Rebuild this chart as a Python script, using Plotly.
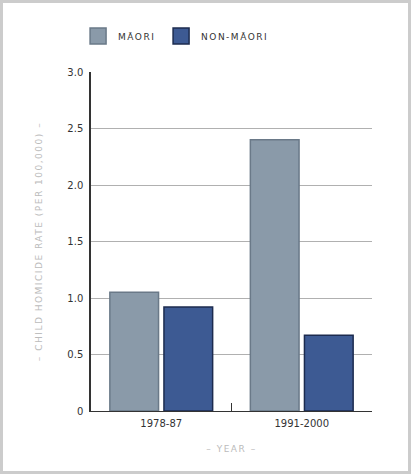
import plotly.graph_objects as go

categories = ["1978-87", "1991-2000"]
maori = [1.05, 2.4]
non_maori = [0.92, 0.67]
series_names = ["MĀORI", "NON-MĀORI"]
ytick_vals = [0, 0.5, 1.0, 1.5, 2.0, 2.5, 3.0]
ytick_text = ["0", "0.5", "1.0", "1.5", "2.0", "2.5", "3.0"]

c_maori = "#8a9aa9"
c_maori_line = "#6a7988"
c_non = "#3d5a93"
c_non_line = "#1c2b4f"

fig = go.Figure()
fig.add_trace(go.Bar(x=categories, y=maori, name=series_names[0],
                     marker=dict(color=c_maori, line=dict(color=c_maori_line, width=1.5)),
                     showlegend=False))
fig.add_trace(go.Bar(x=categories, y=non_maori, name=series_names[1],
                     marker=dict(color=c_non, line=dict(color=c_non_line, width=1.5)),
                     showlegend=False))
# legend entries with larger square swatches
fig.add_trace(go.Scatter(x=[None], y=[None], mode="markers", name=series_names[0],
                         legend="legend",
                         marker=dict(symbol="square", size=18, color=c_maori,
                                     line=dict(color=c_maori_line, width=1.5))))
fig.add_trace(go.Scatter(x=[None], y=[None], mode="markers", name=series_names[1],
                         legend="legend2",
                         marker=dict(symbol="square", size=18, color=c_non,
                                     line=dict(color=c_non_line, width=1.5))))

L, R, T, B = 91, 39, 72, 63
W, H = 411, 474
pw, ph = W - L - R, H - T - B

legend_common = dict(orientation="h", xanchor="left", y=1 + 36 / ph, yanchor="middle",
                     font=dict(size=9, color="#333333"), entrywidth=110,
                     entrywidthmode="pixels", bgcolor="rgba(0,0,0,0)")

fig.update_layout(
    width=W, height=H,
    margin=dict(l=L, r=R, t=T, b=B, pad=0),
    paper_bgcolor="white", plot_bgcolor="white",
    font=dict(family="DejaVu Sans, Verdana, sans-serif", size=10, color="#333333"),
    barmode="group", bargap=0.23, bargroupgap=0.1,
    legend=dict(x=-0.046, **legend_common),
    legend2=dict(x=-0.046 + 83 / pw, **legend_common),
    xaxis=dict(
        type="category", showgrid=False, showline=True, linecolor="#333333", linewidth=1,
        ticks="inside", tickson="boundaries", ticklen=8, tickcolor="#333333",
        tickfont=dict(size=10, color="#333333"), ticklabelstandoff=3,
        title=dict(text="– YEAR –", font=dict(size=9, color="#bbbbbb"), standoff=17),
    ),
    yaxis=dict(
        range=[0, 3.0], tickvals=ytick_vals, ticktext=ytick_text,
        showgrid=True, gridcolor="#b0b0b0", gridwidth=1, zeroline=False,
        showline=True, linecolor="#333333", linewidth=1.5, ticks="",
        tickfont=dict(size=10, color="#333333"), ticklabelstandoff=4,
        title=dict(text="– CHILD HOMICIDE RATE (PER 100,000) –",
                   font=dict(size=9, color="#bbbbbb"), standoff=23),
    ),
)

# outer frame of the image
fig.add_shape(type="rect", xref="paper", yref="paper",
              x0=(1.5 - L) / pw, x1=(W - 1.5 - L) / pw,
              y0=-(B - 1.5) / ph, y1=1 + (T - 1.5) / ph,
              line=dict(color="#cccccc", width=3), layer="below")

post = """
document.body.style.margin = '0';
var st = document.createElement('style');
st.textContent = '.infolayer text, .legendtext, .legend text, .legend2 text, ' +
                 '.g-ytitle text, .g-xtitle text { letter-spacing: 1.5px !important; }';
document.head.appendChild(st);
var gd = document.getElementById('{plot_id}');
function spaceText() {
  gd.querySelectorAll('text').forEach(function (e) {
    var t = e.textContent || '';
    if (t.indexOf('MĀORI') >= 0 || t.indexOf('YEAR') >= 0 || t.indexOf('HOMICIDE') >= 0) {
      e.setAttribute('letter-spacing', '1.5px');
      e.style.letterSpacing = '1.5px';
    }
  });
}
spaceText();
setTimeout(spaceText, 0);
setTimeout(spaceText, 100);
gd.on('plotly_afterplot', spaceText);
"""

fig.write_html("out.html", post_script=post, config={"displayModeBar": False})
